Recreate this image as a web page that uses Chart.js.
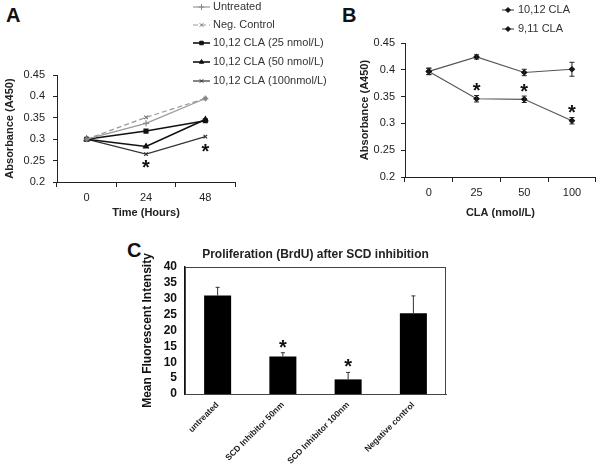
<!DOCTYPE html>
<html>
<head>
<meta charset="utf-8">
<script src="https://cdn.jsdelivr.net/npm/chart.js@4.4.0/dist/chart.umd.min.js"></script>
<style>
body { margin: 0; background: #fff; width: 601px; height: 472px; position: relative; overflow: hidden; }
canvas { position: absolute; }
.panel { position: absolute; font: bold 20px "Liberation Sans", Arial, sans-serif; color: #111; }
</style>
</head>
<body>
<div class="panel" style="left:6px;top:4px">A</div>
<div class="panel" style="left:342px;top:4px">B</div>
<div class="panel" style="left:127px;top:239px">C</div>
<canvas id="chartA" width="340" height="230" style="left:0;top:0"></canvas>
<canvas id="chartB" width="301" height="230" style="left:300px;top:0"></canvas>
<canvas id="chartC" width="601" height="242" style="left:0;top:230px"></canvas>
<script>
// panel A: absorbance over time
const timeLabels = ["0", "24", "48"];
const untreated = [0.3, 0.337, 0.395];
const negControl = [0.3, 0.351, 0.395];
const cla25 = [0.3, 0.319, 0.343];
const cla50 = [0.3, 0.283, 0.346];
const cla100 = [0.3, 0.265, 0.306];
const starsA = [[1, 0.242], [2, 0.279]];

// panel B: absorbance vs dose
const doseLabels = ["0", "25", "50", "100"];
const cla1012 = [0.397, 0.346, 0.345, 0.305];
const cla1012Err = [0.006, 0.006, 0.006, 0.006];
const cla911 = [0.397, 0.424, 0.395, 0.401];
const cla911Err = [0.006, 0.004, 0.006, 0.013];
const starsB = [[1, 0.368], [2, 0.366], [3, 0.327]];

// panel C: BrdU proliferation
const groupLabels = ["untreated", "SCD Inhibitor 50nm", "SCD Inhibitor 100nm", "Negative control"];
const brduMeans = [31.0, 11.8, 4.6, 25.4];
const brduErr = [2.6, 1.2, 2.2, 5.5];
const starsC = [[1, 15.7], [2, 9.9]];

const FONT = "'Liberation Sans', Arial, sans-serif";
Chart.defaults.font.family = FONT;
Chart.defaults.color = "#222";

// error bars, stars, hand drawn legend
const annotPlugin = {
    id: "annot",
    afterDatasetsDraw(chart, args, opts) {
        const ctx = chart.ctx;
        const xs = chart.scales.x, ys = chart.scales.y;
        ctx.save();
        if (opts.frame) {
            const a = chart.chartArea;
            ctx.strokeStyle = "#444";
            ctx.lineWidth = 1;
            ctx.strokeRect(a.left + 0.5, a.top + 0.5, a.right - a.left - 1, a.bottom - a.top);
        }
        (opts.errors || []).forEach(e => {
            ctx.strokeStyle = e.color;
            ctx.lineWidth = 1;
            e.values.forEach((v, i) => {
                const x = xs.getPixelForValue(i);
                const yTop = ys.getPixelForValue(v + e.errors[i]);
                const yBot = e.upOnly ? ys.getPixelForValue(v) : ys.getPixelForValue(v - e.errors[i]);
                ctx.beginPath();
                ctx.moveTo(x, yTop); ctx.lineTo(x, yBot);
                ctx.moveTo(x - e.cap, yTop); ctx.lineTo(x + e.cap, yTop);
                if (!e.upOnly) { ctx.moveTo(x - e.cap, yBot); ctx.lineTo(x + e.cap, yBot); }
                ctx.stroke();
            });
        });
        ctx.fillStyle = "#111";
        ctx.font = "bold 20px " + FONT;
        ctx.textAlign = "center";
        ctx.textBaseline = "alphabetic";
        (opts.stars || []).forEach(([i, v]) => {
            const m = ctx.measureText("*");
            const x = xs.getPixelForValue(i);
            const y = ys.getPixelForValue(v) + (m.actualBoundingBoxAscent - m.actualBoundingBoxDescent) / 2;
            ctx.fillText("*", x, y);
        });
        if (opts.legend) {
            const L = opts.legend;
            ctx.font = "11px " + FONT;
            ctx.textAlign = "left";
            ctx.textBaseline = "middle";
            chart.data.datasets.forEach((ds, i) => {
                const y = L.rows[i];
                ctx.strokeStyle = ds.borderColor;
                ctx.lineWidth = ds.borderWidth;
                ctx.setLineDash(ds.borderDash || []);
                ctx.beginPath();
                ctx.moveTo(L.x0, y); ctx.lineTo(L.x1, y);
                ctx.stroke();
                ctx.setLineDash([]);
                ctx.fillStyle = ds.pointBackgroundColor;
                ctx.strokeStyle = ds.pointBorderColor;
                ctx.lineWidth = 1;
                Chart.helpers.drawPoint(ctx, { pointStyle: ds.pointStyle, radius: ds.pointRadius, rotation: 0, borderWidth: 1 }, (L.x0 + L.x1) / 2, y);
                ctx.fillStyle = "#333";
                ctx.fillText(ds.label, L.tx, y);
            });
        }
        ctx.restore();
    }
};

const tickFont = { size: 11 };
const titleFont = { size: 11, weight: "bold" };

new Chart(document.getElementById("chartA"), {
    type: "line",
    plugins: [annotPlugin],
    data: {
        labels: timeLabels,
        datasets: [
            { label: "Untreated", data: untreated, borderColor: "#999", borderWidth: 1.2, pointStyle: "cross", pointRadius: 3, pointBorderColor: "#888", pointBackgroundColor: "#888" },
            { label: "Neg. Control", data: negControl, borderColor: "#999", borderWidth: 1.2, borderDash: [5, 3], pointStyle: "crossRot", pointRadius: 2.5, pointBorderColor: "#777", pointBackgroundColor: "#777" },
            { label: "10,12 CLA (25 nmol/L)", data: cla25, borderColor: "#111", borderWidth: 1.6, pointStyle: "rect", pointRadius: 2.5, pointBorderColor: "#111", pointBackgroundColor: "#111" },
            { label: "10,12 CLA (50 nmol/L)", data: cla50, borderColor: "#111", borderWidth: 1.6, pointStyle: "triangle", pointRadius: 2.5, pointBorderColor: "#111", pointBackgroundColor: "#111" },
            { label: "10,12 CLA (100nmol/L)", data: cla100, borderColor: "#333", borderWidth: 1.2, pointStyle: "crossRot", pointRadius: 2.5, pointBorderColor: "#333", pointBackgroundColor: "#333" },
        ],
    },
    options: {
        responsive: false,
        animation: false,
        layout: { padding: { left: 0, right: 105, top: 75, bottom: 0 } },
        plugins: {
            legend: { display: false },
            tooltip: { enabled: false },
            annot: { stars: starsA, legend: { x0: 193, x1: 210, tx: 213, rows: [7, 25, 43, 62, 81] } },
        },
        scales: {
            x: {
                offset: true,
                grid: { offset: true, drawOnChartArea: false, tickLength: 5, color: "#222" },
                border: { color: "#222" },
                ticks: { font: tickFont, padding: 4 },
                title: { display: true, text: "Time (Hours)", font: titleFont, padding: { top: 0, bottom: 10.5 } },
                afterFit: s => { s.height = 48; },
            },
            y: {
                min: 0.2, max: 0.45,
                grid: { drawOnChartArea: false, tickLength: 4, color: "#222" },
                border: { color: "#222" },
                ticks: { stepSize: 0.05, font: tickFont, padding: 8, autoSkip: false, callback: v => +v.toFixed(2) },
                title: { display: true, text: "Absorbance (A450)", font: titleFont, padding: { top: 3.5, bottom: 0 } },
                afterFit: s => { s.width = 57; },
            },
        },
    },
});

new Chart(document.getElementById("chartB"), {
    type: "line",
    plugins: [annotPlugin],
    data: {
        labels: doseLabels,
        datasets: [
            { label: "10,12 CLA", data: cla1012, borderColor: "#555", borderWidth: 1.2, pointStyle: "rectRot", pointRadius: 2.5, pointBorderColor: "#111", pointBackgroundColor: "#111" },
            { label: "9,11 CLA", data: cla911, borderColor: "#555", borderWidth: 1.2, pointStyle: "rectRot", pointRadius: 2.5, pointBorderColor: "#111", pointBackgroundColor: "#111" },
        ],
    },
    options: {
        responsive: false,
        animation: false,
        layout: { padding: { left: 55, right: 4, top: 43, bottom: 0 } },
        plugins: {
            legend: { display: false },
            tooltip: { enabled: false },
            annot: {
                stars: starsB,
                errors: [
                    { values: cla1012, errors: cla1012Err, cap: 2.5, color: "#222" },
                    { values: cla911, errors: cla911Err, cap: 2.5, color: "#222" },
                ],
                legend: { x0: 202, x1: 214, tx: 218, rows: [10, 29] },
            },
        },
        scales: {
            x: {
                offset: true,
                grid: { offset: true, drawOnChartArea: false, tickLength: 5, color: "#222" },
                border: { color: "#222" },
                ticks: { font: tickFont, padding: 4 },
                title: { display: true, text: "CLA (nmol/L)", font: titleFont, padding: { top: 0, bottom: 10.5 } },
                afterFit: s => { s.height = 53; },
            },
            y: {
                min: 0.2, max: 0.45,
                grid: { drawOnChartArea: false, tickLength: 4, color: "#222" },
                border: { color: "#222" },
                ticks: { stepSize: 0.05, font: tickFont, padding: 6, autoSkip: false, callback: v => +v.toFixed(2) },
                title: { display: true, text: "Absorbance (A450)", font: titleFont, padding: { top: 3.5, bottom: 0 } },
                afterFit: s => { s.width = 50; },
            },
        },
    },
});

new Chart(document.getElementById("chartC"), {
    type: "bar",
    plugins: [annotPlugin],
    data: {
        labels: groupLabels,
        datasets: [
            { label: "Mean", data: brduMeans, backgroundColor: "#000", categoryPercentage: 1, barPercentage: 0.414 },
        ],
    },
    options: {
        responsive: false,
        animation: false,
        layout: { padding: { left: 130, right: 155, top: 17, bottom: 0 } },
        plugins: {
            legend: { display: false },
            tooltip: { enabled: false },
            title: {
                display: true, fullSize: false,
                text: "Proliferation (BrdU) after SCD inhibition",
                font: { size: 12, weight: "bold" }, color: "#222",
                padding: { top: 0, bottom: 5.6 },
            },
            annot: {
                frame: true,
                stars: starsC,
                errors: [{ values: brduMeans, errors: brduErr, cap: 2, color: "#333", upOnly: true }],
            },
        },
        scales: {
            x: {
                grid: { display: false, drawTicks: false },
                border: { color: "#444" },
                ticks: { font: { size: 8.5, weight: "bold" }, padding: 6, minRotation: 45, maxRotation: 45, autoSkip: false },
                afterFit: s => { s.height = 78; },
            },
            y: {
                min: 0, max: 40,
                grid: { display: false, drawTicks: false },
                border: { color: "#111", width: 1.5 },
                ticks: { stepSize: 5, font: { size: 12, weight: "bold" }, color: "#111", padding: 8, autoSkip: false },
                title: { display: true, text: "Mean Fluorescent Intensity", font: { size: 12, weight: "bold" }, color: "#111", padding: { top: 10, bottom: 0 } },
                afterFit: s => { s.width = 55; },
            },
        },
    },
});
</script>
</body>
</html>
